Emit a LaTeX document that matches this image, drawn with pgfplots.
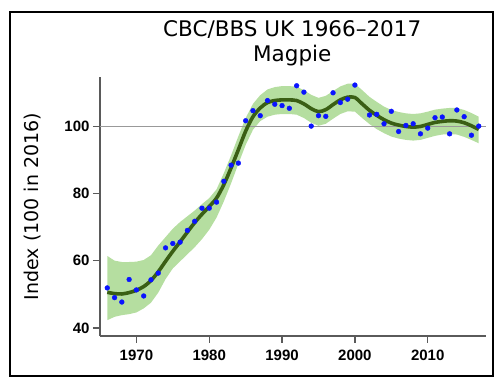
\documentclass[border=0pt]{standalone}
\usepackage{fontspec}
\setmainfont{DejaVu Sans}
\newfontfamily\arialfont{Liberation Sans}
\usepackage{pgfplots}
\pgfplotsset{compat=1.18}
\definecolor{bandgreen}{RGB}{181,222,160}
\definecolor{trendgreen}{RGB}{58,95,20}
\definecolor{dotblue}{RGB}{10,20,255}
\definecolor{axisgray}{RGB}{90,90,90}

\begin{document}
\begin{tikzpicture}
\path[use as bounding box] (0,0) rectangle (500pt,385pt);
\draw[black, line width=1.6pt] (10pt,9pt) rectangle (493pt,373pt);
\begin{axis}[
  at={(100pt,49pt)}, anchor=south west,
  scale only axis, width=386pt, height=259pt,
  xmin=1965, xmax=2018, ymin=37.6, ymax=114.6,
  axis x line*=bottom, axis y line*=left,
  axis line style={draw=axisgray, line width=1.2pt},
  xtick={1970,1980,1990,2000,2010},
  xticklabels={1970,1980,1990,2000,2010},
  ytick={40,60,80,100},
  yticklabels={40,60,80,100},
  tick align=outside, major tick length=7pt,
  tick style={draw=axisgray, line width=1.2pt},
  tick label style={font=\arialfont\bfseries\fontsize{15}{15}\selectfont},
  xticklabel style={yshift=-3pt},
  title={CBC/BBS UK 1966–2017\\Magpie},
  title style={align=center, font=\fontsize{21.5}{24.7}\selectfont, at={(axis description cs:0.498,1)}, anchor=south, inner sep=0pt, yshift=5pt},
  ylabel={Index (100 in 2016)},
  ylabel style={font=\fontsize{19}{19}\selectfont, at={(axis description cs:-0.176,0.5)}, anchor=center},
]
% confidence band: upper limit 1966-2017, then lower limit 2017-1966
\addplot[fill=bandgreen, draw=none] coordinates {
(1966,61.4) (1967,60.0) (1968,59.6) (1969,59.6) (1970,59.7) (1971,60.2) (1972,61.6) (1973,64.5) (1974,67.0) (1975,69.5) (1976,71.5) (1977,73.2) (1978,74.9) (1979,76.8) (1980,78.6) (1981,81.2) (1982,86.0) (1983,91.3) (1984,97.0) (1985,102.4) (1986,106.6) (1987,109.2) (1988,110.9) (1989,111.6) (1990,111.9) (1991,111.9) (1992,111.7) (1993,110.7) (1994,109.3) (1995,108.4) (1996,109.0) (1997,110.4) (1998,111.8) (1999,112.6) (2000,112.6) (2001,110.7) (2002,108.7) (2003,107.2) (2004,105.8) (2005,104.8) (2006,104.2) (2007,103.8) (2008,103.6) (2009,103.8) (2010,104.3) (2011,104.9) (2012,105.2) (2013,105.4) (2014,105.4) (2015,104.8) (2016,103.9) (2017,102.8)
(2017,94.9) (2016,95.9) (2015,96.8) (2014,97.5) (2013,97.6) (2012,97.5) (2011,97.1) (2010,96.5) (2009,95.9) (2008,95.7) (2007,95.9) (2006,96.3) (2005,96.9) (2004,97.9) (2003,99.1) (2002,100.6) (2001,102.4) (2000,104.3) (1999,104.4) (1998,103.6) (1997,102.2) (1996,100.7) (1995,100.1) (1994,101.0) (1993,102.4) (1992,103.4) (1991,103.6) (1990,103.6) (1989,103.4) (1988,102.8) (1987,101.5) (1986,98.9) (1985,94.4) (1984,88.8) (1983,83.0) (1982,77.6) (1981,72.8) (1980,69.2) (1979,66.4) (1978,64.0) (1977,61.9) (1976,59.8) (1975,57.7) (1974,54.5) (1973,50.5) (1972,47.5) (1971,45.8) (1970,44.6) (1969,44.1) (1968,43.8) (1967,43.3) (1966,42.3)} -- cycle;
% reference line
\addplot[draw=gray!80, line width=0.9pt] coordinates {(1965,100) (2018,100)};
% smoothed trend
\addplot[trendgreen, line width=3.6pt, smooth] coordinates {
(1966,50.6) (1967,50.2) (1968,50.1) (1969,50.5) (1970,51.2) (1971,52.3) (1972,54.1) (1973,56.7) (1974,59.8) (1975,62.8) (1976,65.6) (1977,68.5) (1978,71.3) (1979,73.8) (1980,76.1) (1981,78.6) (1982,82.6) (1983,87.6) (1984,93.0) (1985,98.5) (1986,102.8) (1987,105.4) (1988,107.0) (1989,107.6) (1990,107.8) (1991,107.8) (1992,107.6) (1993,106.6) (1994,105.2) (1995,104.3) (1996,104.9) (1997,106.4) (1998,107.8) (1999,108.6) (2000,108.5) (2001,106.6) (2002,104.7) (2003,103.2) (2004,101.9) (2005,100.9) (2006,100.3) (2007,99.9) (2008,99.7) (2009,99.9) (2010,100.5) (2011,101.1) (2012,101.4) (2013,101.6) (2014,101.5) (2015,101.0) (2016,100.1) (2017,99.0)};
% annual indices
\addplot[only marks, mark=*, mark size=2.4pt, mark options={draw=dotblue, fill=dotblue}] coordinates {
(1966,51.9) (1967,49.0) (1968,47.7) (1969,54.4) (1970,51.3) (1971,49.5) (1972,54.3) (1973,56.3) (1974,63.8) (1975,65.1) (1976,65.5) (1977,69.0) (1978,71.7) (1979,75.6) (1980,75.6) (1981,77.4) (1982,83.6) (1983,88.4) (1984,89.0) (1985,101.6) (1986,104.6) (1987,103.1) (1988,107.6) (1989,106.5) (1990,106.1) (1991,105.3) (1992,112.0) (1993,110.1) (1994,100.0) (1995,103.1) (1996,102.9) (1997,109.9) (1998,107.0) (1999,108.0) (2000,112.2) (2002,103.3) (2003,103.5) (2004,100.7) (2005,104.4) (2006,98.4) (2007,100.2) (2008,100.7) (2009,97.7) (2010,99.4) (2011,102.5) (2012,102.7) (2013,97.7) (2014,104.8) (2015,102.8) (2016,97.3) (2017,100.0)};
\end{axis}
\end{tikzpicture}
\end{document}
